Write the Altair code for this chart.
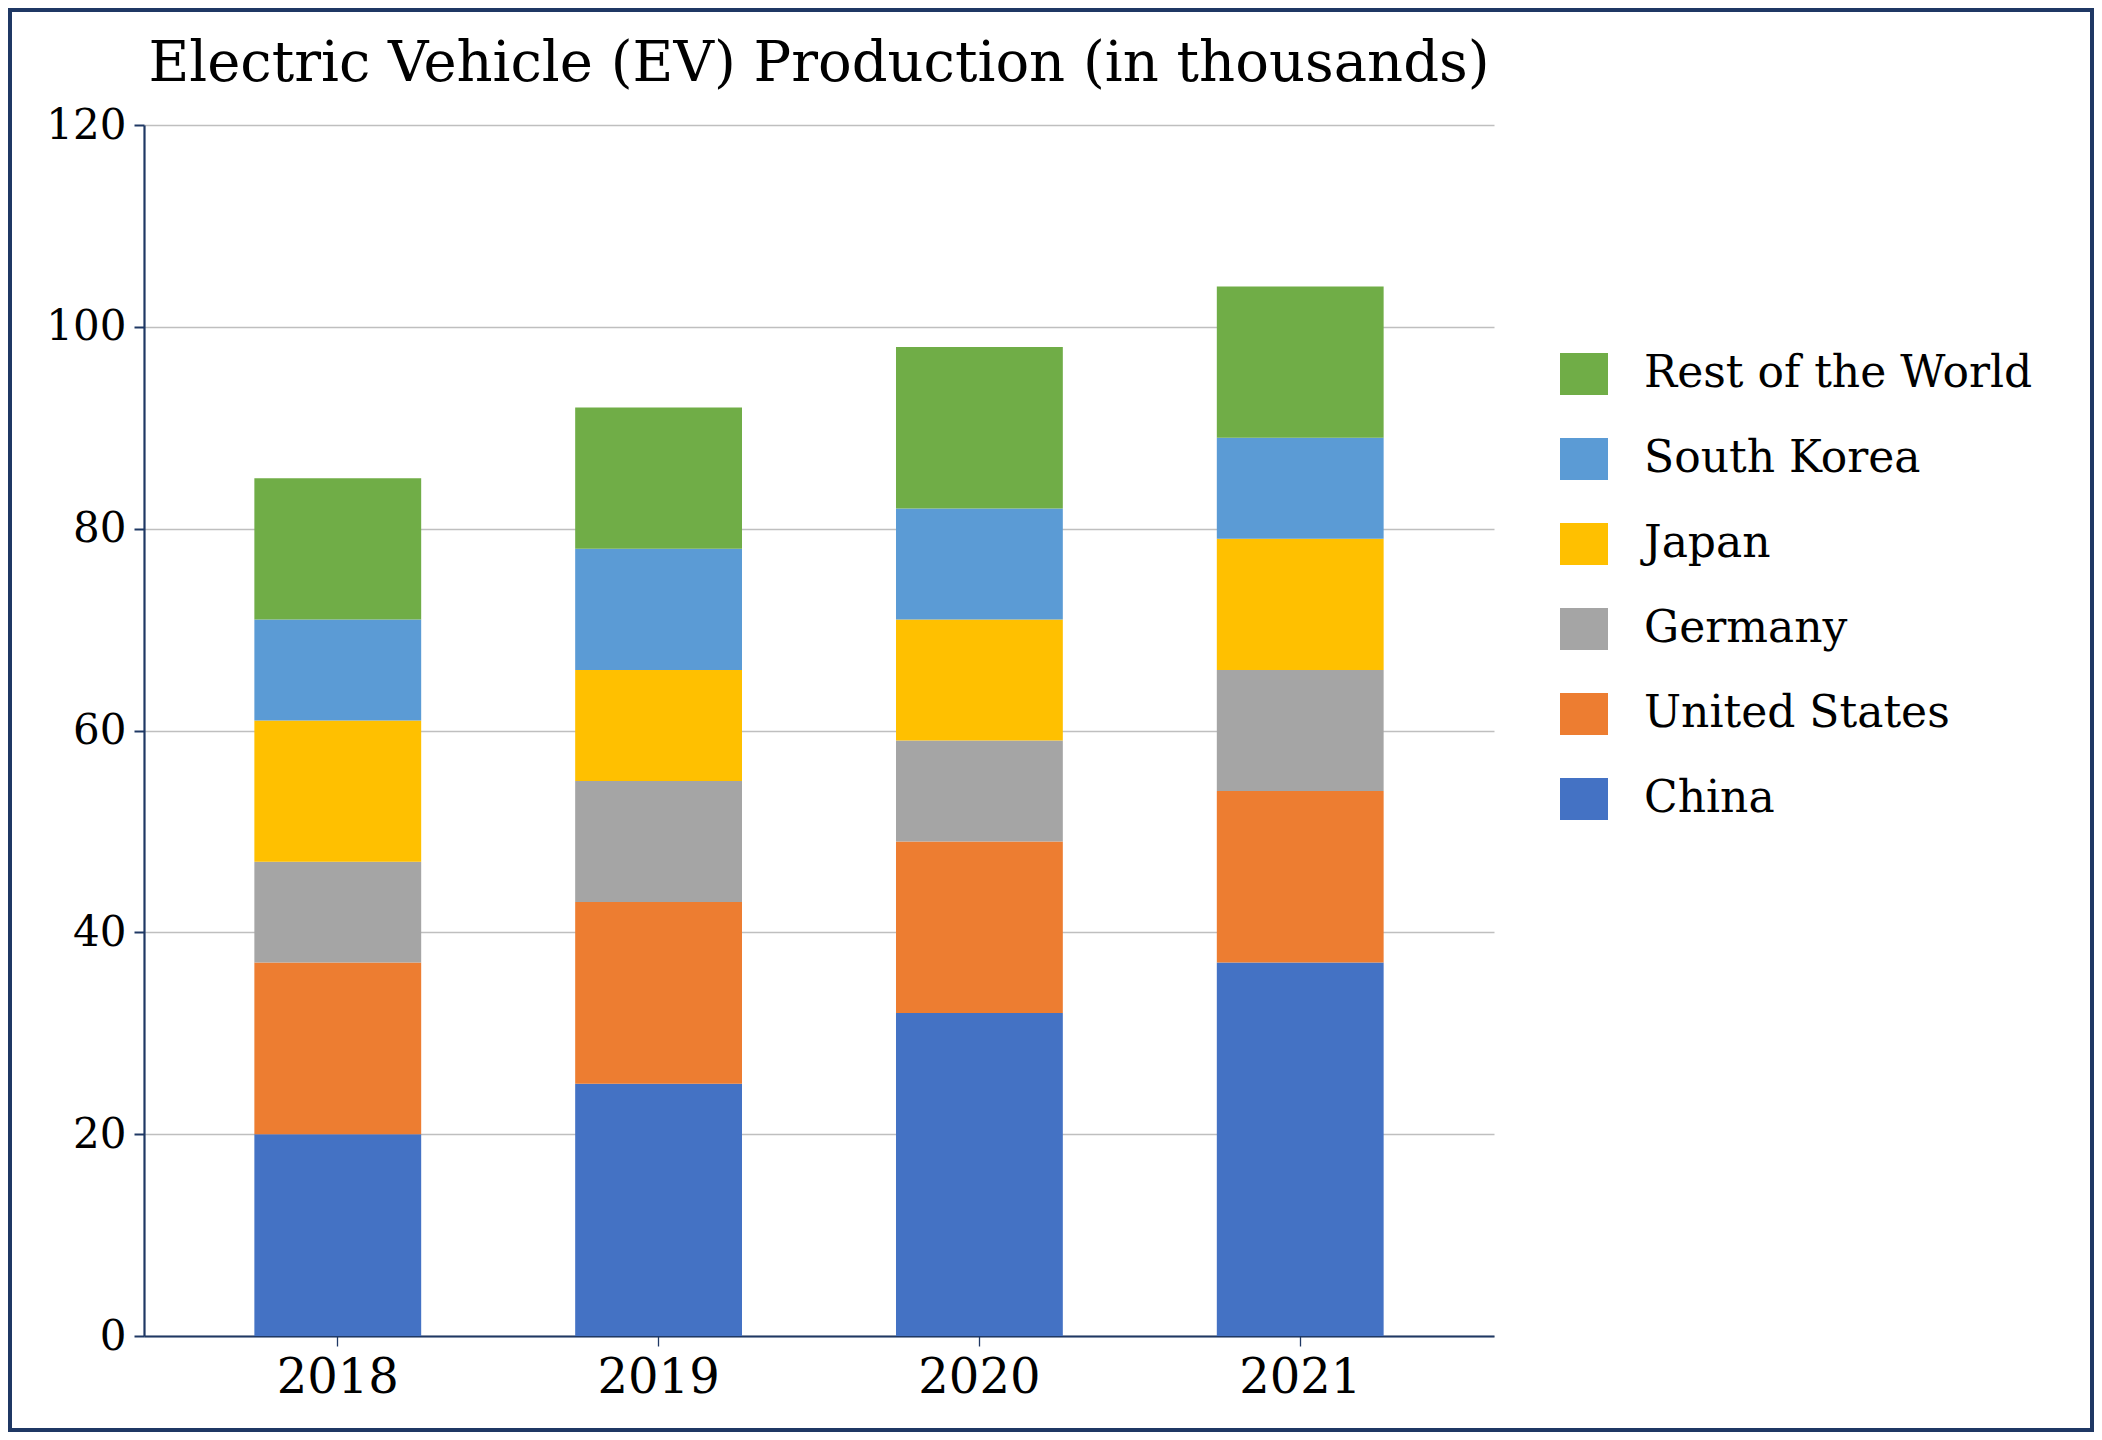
import altair as alt
import pandas as pd

# ---- data ----
years = ["2018", "2019", "2020", "2021"]
countries = ["China", "United States", "Germany", "Japan", "South Korea", "Rest of the World"]
china = [20, 25, 32, 37]
united_states = [17, 18, 17, 17]
germany = [10, 12, 10, 12]
japan = [14, 11, 12, 13]
south_korea = [10, 12, 11, 10]
rest_of_world = [14, 14, 16, 15]
colors = ["#4472C4", "#ED7D31", "#A5A5A5", "#FFC000", "#5B9BD5", "#70AD47"]
y_ticks = [0, 20, 40, 60, 80, 100, 120]
title_text = "Electric Vehicle (EV) Production (in thousands)"

series = [china, united_states, germany, japan, south_korea, rest_of_world]
rows = []
for ci, (name, vals) in enumerate(zip(countries, series)):
    for yr, v in zip(years, vals):
        rows.append({"Year": yr, "Country": name, "Value": v, "idx": ci})
df = pd.DataFrame(rows)

FONT = "DejaVu Serif"
NAVY = "#1F3864"
W, H = 1350, 1211
PAD_L, PAD_T = 136, 117
SVG_W, SVG_H = 2086, 1424

bars = alt.Chart(df).mark_bar().encode(
    x=alt.X("Year:N", sort=years, title=None,
            scale=alt.Scale(paddingInner=0.48, paddingOuter=0.344),
            axis=alt.Axis(labelAngle=0, labelFontSize=48, labelPadding=8,
                          tickSize=10, tickWidth=1.3, tickColor=NAVY,
                          domainColor=NAVY, domainWidth=2.2, grid=False,
                          labelColor="black", labelFont=FONT)),
    y=alt.Y("Value:Q", stack="zero", title=None,
            scale=alt.Scale(domain=[0, 120], nice=False),
            axis=alt.Axis(values=y_ticks, labelFontSize=42, labelPadding=8,
                          tickSize=10, tickWidth=2, tickColor=NAVY,
                          domainColor=NAVY, domainWidth=2.2,
                          grid=True, gridColor="#BFBFBF", gridWidth=1.3,
                          labelColor="black", labelFont=FONT)),
    color=alt.Color("Country:N",
                    scale=alt.Scale(domain=countries[::-1], range=colors[::-1]),
                    legend=alt.Legend(title=None, orient="none",
                                      legendX=1416, legendY=225,
                                      symbolType="M-1,-0.875H1V0.875H-1Z",
                                      symbolSize=2304, symbolStrokeWidth=0,
                                      symbolOpacity=1,
                                      labelFontSize=44, labelFont=FONT,
                                      labelColor="black", labelOffset=36,
                                      labelLimit=1000,
                                      rowPadding=39, padding=0)),
    order=alt.Order("idx:Q", sort="ascending"),
)

title = alt.Chart(alt.Data(values=[{"t": title_text}])).mark_text(
    font=FONT, fontSize=56, color="black", align="center", baseline="alphabetic"
).encode(
    text="t:N",
    x=alt.value(W / 2),
    y=alt.value(-44),
)

# decorative frame round the whole picture (in plot-relative pixels)
border = alt.Chart(alt.Data(values=[{"k": 1}])).mark_rect(
    fill="transparent", stroke=NAVY, strokeWidth=4
).encode(
    x=alt.value(10 - 8 - PAD_L), x2=alt.value(SVG_W - 2 - PAD_L),
    y=alt.value(10 - 8 - PAD_T), y2=alt.value(SVG_H - 2 - PAD_T),
)

chart = alt.layer(bars, title, border).properties(
    width=W, height=H,
    autosize=alt.AutoSizeParams(type="none"),
    padding={"left": PAD_L, "top": PAD_T,
             "right": SVG_W - PAD_L - W, "bottom": SVG_H - PAD_T - H},
).configure(background="white", font=FONT).configure_view(
    stroke="transparent", strokeWidth=0)

chart.save("out.html", embed_options={"renderer": "svg", "actions": False})
